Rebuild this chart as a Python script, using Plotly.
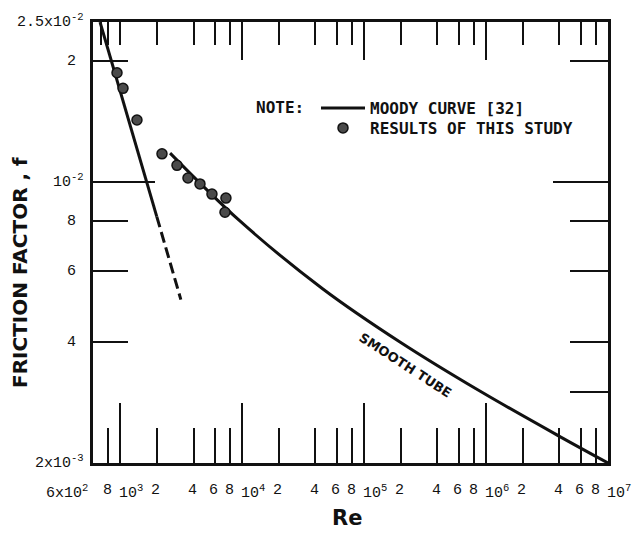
import math
import plotly.graph_objects as go

# ---------------- data ----------------
# Moody laminar line: solid part and dashed extension
lam_re = [685, 2000]
lam_f = [0.025, 0.0082]
lam_dash_re = [2000, 3150]
lam_dash_f = [0.0082, 0.0051]

# Moody smooth-tube turbulent curve
turb_re = [2570, 9600, 46000, 197000, 890000, 4000000, 10000000]
turb_f = [0.0118, 0.0080, 0.00542, 0.00400, 0.00302, 0.00233, 0.0020]

# Results of this study
res_re = [944, 1057, 1376, 2206, 2929, 3603, 4519, 5666, 7379, 7245]
res_f = [0.0187, 0.0171, 0.01426, 0.01175, 0.0110, 0.01023, 0.00989, 0.00933, 0.00912, 0.00841]

re_range = [600, 1e7]
f_range = [0.002, 0.025]

# tick labels
x_tick_vals = [600, 800, 1e3, 2e3, 4e3, 6e3, 8e3, 1e4, 2e4, 4e4, 6e4, 8e4,
               1e5, 2e5, 4e5, 6e5, 8e5, 1e6, 2e6, 4e6, 6e6, 8e6, 1e7]
x_tick_text = ["6x10<sup>2</sup>", "8", "10<sup>3</sup>", "2", "4", "6", "8", "10<sup>4</sup>",
               "2", "4", "6", "8", "10<sup>5</sup>", "2", "4", "6", "8", "10<sup>6</sup>",
               "2", "4", "6", "8", "10<sup>7</sup>"]
y_tick_vals = [0.025, 0.02, 0.01, 0.008, 0.006, 0.004, 0.002]
y_tick_text = ["2.5x10<sup>-2</sup>", "2", "10<sup>-2</sup>", "8", "6", "4", "2x10<sup>-3</sup>"]

# tick marks (inside the frame)
bottom_major = [1e3, 1e4, 1e5, 1e6]
bottom_minor = [800, 2e3, 4e3, 6e3, 8e3, 2e4, 4e4, 6e4, 8e4, 2e5, 4e5, 6e5, 8e5,
                2e6, 4e6, 6e6, 8e6]
top_major = [1e4, 1e5, 1e6]
top_minor = [700, 800, 1e3, 2e3, 4e3, 6e3, 8e3, 2e4, 4e4, 6e4, 8e4, 2e5, 4e5, 6e5, 8e5,
             2e6, 4e6, 6e6, 8e6]
left_major = [1e-2]
left_minor = [2e-2, 8e-3, 6e-3, 4e-3]
right_major = [1e-2]
right_minor = [2e-2, 8e-3, 6e-3, 4e-3, 3e-3]

# ---------------- figure ----------------
INK = "#111111"
MONO = "Liberation Mono"
LEG = "DejaVu Sans Mono"
SANS = "DejaVu Sans"

fig = go.Figure()

fig.add_trace(go.Scatter(x=lam_re, y=lam_f, mode="lines", name="MOODY CURVE [32]",
                         line=dict(color=INK, width=3), legend="legend"))
fig.add_trace(go.Scatter(x=turb_re, y=turb_f, mode="lines", showlegend=False,
                         line=dict(color=INK, width=3, shape="spline", smoothing=1.0)))
fig.add_trace(go.Scatter(x=res_re, y=res_f, mode="markers", name="RESULTS OF THIS STUDY",
                         marker=dict(size=10, color="#4a4a4a",
                                     line=dict(color=INK, width=1.5)), legend="legend2"))
# dashed extension drawn on the mirror axes (top / right) which share the same scales
fig.add_trace(go.Scatter(x=lam_dash_re, y=lam_dash_f, mode="lines", showlegend=False,
                         xaxis="x2", yaxis="y2",
                         line=dict(color=INK, width=3, dash="11px,5px")))

lx = [math.log10(v) for v in re_range]
ly = [math.log10(v) for v in f_range]

common = dict(type="log", showgrid=False, zeroline=False, showline=True,
              linecolor=INK, linewidth=3, ticks="inside", tickcolor=INK,
              tickwidth=2, showticklabels=False, tickmode="array")

leg_common = dict(xanchor="left", yanchor="middle", bgcolor="rgba(0,0,0,0)", borderwidth=0,
                  font=dict(family=LEG, size=16, color=INK, weight="bold"), itemwidth=44)

fig.update_layout(
    width=642, height=536,
    margin=dict(l=93, r=34, t=22, b=73),
    paper_bgcolor="white", plot_bgcolor="white",
    xaxis=dict(range=lx, tickvals=bottom_major, ticklen=60,
               minor=dict(tickmode="array", tickvals=bottom_minor, ticklen=35,
                          ticks="inside", tickcolor=INK, tickwidth=2, showgrid=False),
               **common),
    xaxis2=dict(range=lx, overlaying="x", side="top", anchor="y",
                tickvals=top_major, ticklen=38,
                minor=dict(tickmode="array", tickvals=top_minor, ticklen=23,
                           ticks="inside", tickcolor=INK, tickwidth=2, showgrid=False),
                **common),
    yaxis=dict(range=ly, tickvals=left_major, ticklen=62,
               minor=dict(tickmode="array", tickvals=left_minor, ticklen=35,
                          ticks="inside", tickcolor=INK, tickwidth=2, showgrid=False),
               **common),
    yaxis2=dict(range=ly, overlaying="y", side="right", anchor="x",
                tickvals=right_major, ticklen=55,
                minor=dict(tickmode="array", tickvals=right_minor, ticklen=38,
                           ticks="inside", tickcolor=INK, tickwidth=2, showgrid=False),
                **common),
    showlegend=True,
    legend=dict(x=(316 - 93) / 515, y=(463 - 108) / 441, **leg_common),
    legend2=dict(x=(316 - 93) / 515, y=(463 - 128) / 441, **leg_common),
)

ann = []
# x tick labels
for v, t in zip(x_tick_vals, x_tick_text):
    if "x10" in t:
        anchor, shift = "right", -3
    elif t.startswith("10"):
        anchor, shift = "left", -3
    else:
        anchor, shift = "center", -1
    ann.append(dict(x=math.log10(v), xref="x", y=0, yref="paper", text=t,
                    xanchor=anchor, xshift=shift, yanchor="top", yshift=-17,
                    showarrow=False, font=dict(family=MONO, size=15, color=INK)))
# y tick labels
for v, t in zip(y_tick_vals, y_tick_text):
    shift = -7 if "<sup>" in t else -15
    ann.append(dict(x=0, xref="paper", y=math.log10(v), yref="y", text=t,
                    xanchor="right", xshift=shift, yanchor="bottom", yshift=-11,
                    showarrow=False, font=dict(family=MONO, size=15, color=INK)))
# axis titles
ann.append(dict(x=(347 - 93) / 515, xref="paper", y=(463 - 518) / 441, yref="paper",
                text="<b>Re</b>", showarrow=False, xanchor="center", yanchor="middle",
                font=dict(family=SANS, size=21, color=INK)))
ann.append(dict(x=(20 - 93) / 515, xref="paper", y=(463 - 273) / 441, yref="paper",
                text="<b>FRICTION FACTOR , f</b>", showarrow=False, textangle=-90,
                xanchor="center", yanchor="middle",
                font=dict(family=SANS, size=20, color=INK)))
# legend note
ann.append(dict(x=(306 - 93) / 515, xref="paper", y=(463 - 108) / 441, yref="paper",
                text="NOTE:", showarrow=False, xanchor="right", yanchor="middle",
                font=dict(family=LEG, size=16, color=INK, weight="bold")))
# curve label
ann.append(dict(x=math.log10(2.2e5), xref="x", y=math.log10(0.00350), yref="y",
                text="<b>SMOOTH TUBE</b>", showarrow=False, textangle=33,
                xanchor="center", yanchor="middle",
                font=dict(family=SANS, size=13, color=INK)))
fig.update_layout(annotations=ann)

fig.write_html("out.html")
